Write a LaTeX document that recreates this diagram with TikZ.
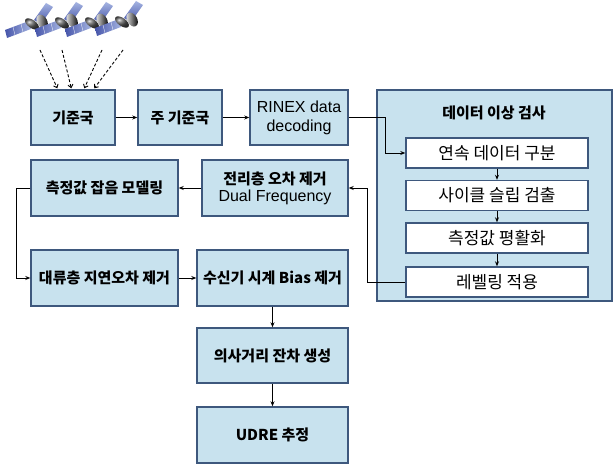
\documentclass[tikz,border=0pt]{standalone}
\usepackage{fontspec}
\setmainfont{Noto Sans CJK KR}
\newfontfamily\latinsans{Liberation Sans}
\usetikzlibrary{arrows.meta,calc}
\definecolor{boxfill}{RGB}{200,226,238}
\definecolor{boxline}{RGB}{62,88,125}
\definecolor{panelA}{RGB}{70,85,170}
\definecolor{panelB}{RGB}{165,180,225}
\tikzset{
  blockbox/.style={draw=boxline, line width=1.4pt, fill=boxfill, align=center,
    inner sep=0pt, font=\fontsize{15}{18}\selectfont\bfseries},
  subbox/.style={draw=boxline, line width=1.4pt, fill=white, align=center,
    minimum width=182pt, minimum height=30pt, inner sep=0pt,
    font=\fontsize{17}{19}\selectfont},
  flow/.style={line width=0.9pt, -{Stealth[length=5pt,width=4pt]}},
  signal/.style={line width=0.9pt, dashed, dash pattern=on 3pt off 2pt,
    -{Straight Barb[length=3pt,width=5pt]}},
  sat/.pic={
    % solar panel, lower-left wing
    \shade[left color=panelA, right color=panelB]
      (-3,-3) -- (-27,6) -- (-25,14) -- (-1,5) -- cycle;
    \draw[white, line width=0.3pt] (-11,0) -- (-9,8) (-19,3) -- (-17,11);
    % solar panel, upper-right wing
    \shade[bottom color=panelA, top color=panelB]
      (2,-4) -- (14,-21) -- (21,-17) -- (9,0) -- cycle;
    % body
    \shade[ball color=gray!70!black, rotate=-35] (0,0) ellipse (8 and 4);
    % dish
    \shade[left color=gray!20, right color=black, rotate=30] (10,3) ellipse (5 and 7.5);
  }
}
\begin{document}
\begin{tikzpicture}[x=1pt,y=-1pt]
\useasboundingbox (0,0) rectangle (613,465);
\fill[white] (0,0) rectangle (613,465);

% satellites
\foreach \sx/\sy [count=\i] in {32/24, 62/23, 92/23, 122/22}
  \pic at (\sx,\sy) {sat};

% first row
\node[blockbox, minimum width=84pt, minimum height=55pt] (ref) at (73,117.5) {기준국};
\node[blockbox, minimum width=84pt, minimum height=55pt] (mref) at (180,117.5) {주 기준국};
\node[blockbox, minimum width=98pt, minimum height=55pt, font=\latinsans\fontsize{16}{19}\selectfont] (rinex) at (299,117.5) {RINEX data\\decoding};

% data check group
\node[draw=boxline, line width=1.4pt, fill=boxfill, minimum width=235pt, minimum height=211pt, inner sep=0pt] (check) at (494.5,195.5) {};
\node[font=\fontsize{15}{18}\selectfont\bfseries] (checkt) at (494,113) {데이터 이상 검사};
\node[subbox] (c1) at (497,153) {연속 데이터 구분};
\node[subbox] (c2) at (497,195.5) {사이클 슬립 검출};
\node[subbox] (c3) at (497,238) {측정값 평활화};
\node[subbox] (c4) at (497,282) {레벨링 적용};

% second row
\node[blockbox, minimum width=147pt, minimum height=56pt] (noise) at (104.5,188) {측정값 잡음 모델링};
\node[blockbox, minimum width=146pt, minimum height=56pt] (iono) at (275,188)
  {전리층 오차 제거\\[-1pt]{\latinsans\fontsize{16}{18}\selectfont\mdseries Dual Frequency}};

% third row
\node[blockbox, minimum width=147pt, minimum height=56pt] (tropo) at (104.5,278) {대류층 지연오차 제거};
\node[blockbox, minimum width=151pt, minimum height=56pt] (clock) at (272.5,278) {수신기 시계 Bias 제거};

% final stages
\node[blockbox, minimum width=151pt, minimum height=55pt] (pr) at (272.5,355.5) {의사거리 잔차 생성};
\node[blockbox, minimum width=151pt, minimum height=56pt] (udre) at (272.5,435) {UDRE 추정};

% signals from the satellites
\coordinate (s1) at (40,50);
\coordinate (s2) at (62,50);
\coordinate (s3) at (102,50);
\coordinate (s4) at (123,50);
\draw[signal] (s1) -- ($(ref.north west)+(27,-1)$);
\draw[signal] (s2) -- ($(ref.north west)+(41,-1)$);
\draw[signal] (s3) -- ($(ref.north west)+(54,-1)$);
\draw[signal] (s4) -- ($(ref.north west)+(64,-1)$);

% processing flow
\draw[flow] (ref) -- (mref);
\draw[flow] (mref) -- (rinex);
\draw[flow] (rinex.east) -- ++(37,0) |- (c1.west);
\draw[flow] (c1) -- (c2);
\draw[flow] (c2) -- (c3);
\draw[flow] (c3) -- (c4);
\draw[flow] (c4.west) -- ++(-38,0) |- (iono.east);
\draw[flow] (iono) -- (noise);
\draw[flow] (noise.west) -- ++(-14,0) |- (tropo.west);
\draw[flow] (tropo) -- (clock);
\draw[flow] (clock) -- (pr);
\draw[flow] (pr) -- (udre);
\end{tikzpicture}
\end{document}
